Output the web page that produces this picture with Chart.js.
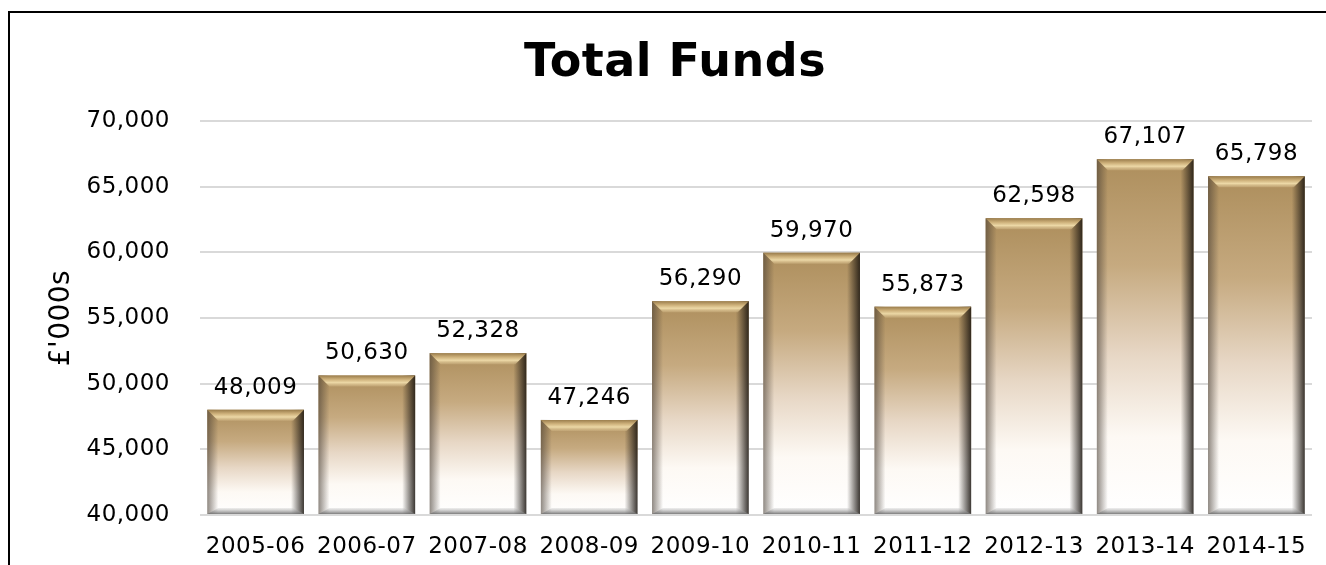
<!DOCTYPE html>
<html>
<head>
<meta charset="utf-8">
<script src="https://cdn.jsdelivr.net/npm/chart.js@4"></script>
<style>
  body { margin: 0; background: #fff; overflow: hidden; }
  .frame {
    position: absolute; left: 8px; top: 11px;
    width: 1400px; height: 600px;
    border: 2px solid #000; box-sizing: border-box;
  }
  #fundsChart { position: absolute; left: 0; top: 0; }
</style>
</head>
<body>
<div class="frame"></div>
<canvas id="fundsChart" width="1350" height="565"></canvas>
<script>
const years = ["2005-06", "2006-07", "2007-08", "2008-09", "2009-10",
  "2010-11", "2011-12", "2012-13", "2013-14", "2014-15"];
const totalFunds = [48009, 50630, 52328, 47246, 56290, 59970, 55873, 62598, 67107, 65798];
const yMin = 40000;
const yMax = 70000;
const yStep = 5000;

const FONT = "'DejaVu Sans', Verdana, sans-serif";

// gold-to-white fill, one gradient per bar
function barFill(context) {
  const chart = context.chart;
  const yScale = chart.scales.y;
  if (!yScale || context.raw === undefined) return "#b5966a";
  const top = yScale.getPixelForValue(context.raw);
  const bottom = yScale.getPixelForValue(yMin);
  if (!isFinite(top) || !isFinite(bottom)) return "#b5966a";
  const g = chart.ctx.createLinearGradient(0, top, 0, bottom);
  g.addColorStop(0, "#ad8e5c");
  g.addColorStop(0.3, "#c6aa80");
  g.addColorStop(0.55, "#e7d7c5");
  g.addColorStop(0.78, "#fdf9f4");
  g.addColorStop(1, "#ffffff");
  return g;
}

// slightly spaced lettering for every label on the canvas
const spacingPlugin = {
  id: "spacing",
  beforeInit(chart) {
    chart.ctx.letterSpacing = "0.5px";
  },
  beforeDraw(chart) {
    chart.ctx.letterSpacing = "0.5px";
  },
};

// bevelled edges and value labels on top of each bar
const bevelPlugin = {
  id: "bevel",
  afterDatasetsDraw(chart) {
    const ctx = chart.ctx;
    const meta = chart.getDatasetMeta(0);
    ctx.save();
    meta.data.forEach((bar, i) => {
      const w = bar.width;
      const left = bar.x - w / 2;
      const right = bar.x + w / 2;
      const top = bar.y;
      const bottom = bar.base;
      const h = bottom - top;
      const bev = 11;

      // left side shade
      let g = ctx.createLinearGradient(left, 0, left + bev, 0);
      g.addColorStop(0, "rgba(70,60,50,0.6)");
      g.addColorStop(1, "rgba(70,60,50,0)");
      ctx.fillStyle = g;
      ctx.fillRect(left, top, bev, h);

      // right side shade
      g = ctx.createLinearGradient(right - bev - 2, 0, right, 0);
      g.addColorStop(0, "rgba(25,20,15,0)");
      g.addColorStop(1, "rgba(25,20,15,0.85)");
      ctx.fillStyle = g;
      ctx.fillRect(right - bev - 2, top, bev + 2, h);

      // top bevel with highlight
      ctx.beginPath();
      ctx.moveTo(left, top);
      ctx.lineTo(right, top);
      ctx.lineTo(right - bev, top + bev);
      ctx.lineTo(left + bev, top + bev);
      ctx.closePath();
      g = ctx.createLinearGradient(0, top, 0, top + bev);
      g.addColorStop(0, "#9a7d4c");
      g.addColorStop(0.35, "#cdb07a");
      g.addColorStop(0.65, "#ecd8a6");
      g.addColorStop(1, "rgba(205,178,130,0.5)");
      ctx.fillStyle = g;
      ctx.fill();

      // bottom bevel
      const bb = 6;
      ctx.beginPath();
      ctx.moveTo(left, bottom);
      ctx.lineTo(right, bottom);
      ctx.lineTo(right - bev, bottom - bb);
      ctx.lineTo(left + bev, bottom - bb);
      ctx.closePath();
      g = ctx.createLinearGradient(0, bottom - bb, 0, bottom);
      g.addColorStop(0, "rgba(200,200,200,0.3)");
      g.addColorStop(1, "rgba(110,110,110,0.9)");
      ctx.fillStyle = g;
      ctx.fill();

      // value label
      ctx.fillStyle = "#000";
      ctx.font = "23px " + FONT;
      ctx.textAlign = "center";
      ctx.textBaseline = "alphabetic";
      ctx.fillText(totalFunds[i].toLocaleString("en-US"), bar.x, top - 16);
    });
    ctx.restore();
  },
};

new Chart(document.getElementById("fundsChart"), {
  type: "bar",
  data: {
    labels: years,
    datasets: [
      {
        label: "Total Funds",
        data: totalFunds,
        base: yMin,
        backgroundColor: barFill,
        borderWidth: 0,
        categoryPercentage: 1,
        barPercentage: 0.87,
      },
    ],
  },
  plugins: [spacingPlugin, bevelPlugin],
  options: {
    responsive: false,
    animation: false,
    layout: {
      padding: { left: 38, right: 38, top: 0, bottom: 0 },
    },
    plugins: {
      legend: { display: false },
      tooltip: { enabled: false },
      title: {
        display: true,
        text: "Total Funds",
        color: "#000",
        font: { family: FONT, size: 46, weight: "bold" },
        padding: { top: 36, bottom: 30 },
      },
    },
    scales: {
      x: {
        grid: { display: false, drawTicks: false },
        border: { display: false },
        ticks: {
          color: "#000",
          padding: 18,
          maxRotation: 0,
          font: { family: FONT, size: 23 },
        },
        afterFit(scale) {
          scale.height = 50;
        },
      },
      y: {
        min: yMin,
        max: yMax,
        grid: { color: "#d9d9d9", lineWidth: 2, drawTicks: false },
        border: { display: false },
        ticks: {
          stepSize: yStep,
          color: "#000",
          padding: 30,
          font: { family: FONT, size: 23 },
          callback: (v) => v.toLocaleString("en-US"),
        },
        title: {
          display: true,
          text: "£'000s",
          color: "#000",
          font: { family: FONT, size: 28 },
          padding: { top: 7, bottom: 0 },
        },
        afterFit(scale) {
          scale.width = 162;
        },
      },
    },
  },
});
</script>
</body>
</html>
